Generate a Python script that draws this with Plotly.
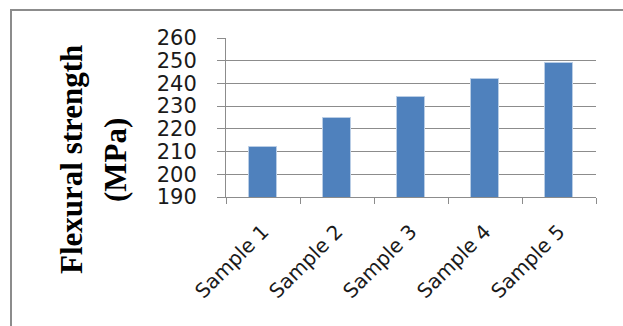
import plotly.graph_objects as go

# Flexural strength per sample (MPa)
samples = ["Sample 1", "Sample 2", "Sample 3", "Sample 4", "Sample 5"]
strength = [212, 225, 234, 242, 249]
y_ticks = [190, 200, 210, 220, 230, 240, 250, 260]

W, H = 623, 326
L, R, T, B = 226, 27, 38, 129
pw, ph = W - L - R, H - T - B


def px_x(p):
    return (p - L) / pw


def px_y(p):
    return 1 - (p - T) / ph


fig = go.Figure(
    go.Bar(
        x=samples,
        y=strength,
        width=0.38,
        marker=dict(color="#4F81BD", line=dict(color="#B9CDE5", width=1)),
    )
)

grid = "#8C8C8C"
fig.update_layout(
    width=W,
    height=H,
    margin=dict(l=L, r=R, t=T, b=B),
    paper_bgcolor="white",
    plot_bgcolor="white",
    showlegend=False,
    bargap=0,
    xaxis=dict(
        showgrid=False,
        showline=True,
        linecolor=grid,
        linewidth=1,
        ticks="outside",
        tickson="boundaries",
        ticklen=6,
        tickcolor=grid,
        tickangle=-45,
        ticklabelstandoff=14,
        tickfont=dict(family="DejaVu Sans", size=20, color="#1a1a1a"),
    ),
    yaxis=dict(
        range=[190, 260],
        tickvals=y_ticks,
        showgrid=True,
        gridcolor=grid,
        gridwidth=1,
        showline=True,
        linecolor=grid,
        linewidth=1,
        ticks="outside",
        ticklen=8,
        tickcolor=grid,
        ticklabelstandoff=16,
        zeroline=False,
        tickfont=dict(family="DejaVu Sans", size=21, color="#1a1a1a"),
    ),
    shapes=[
        dict(
            type="rect",
            xref="paper",
            yref="paper",
            x0=px_x(11),
            x1=px_x(640),
            y0=px_y(340),
            y1=px_y(10),
            line=dict(color="#8C8C8C", width=2),
            layer="below",
        )
    ],
    annotations=[
        dict(
            text="<b>Flexural strength</b>",
            xref="paper",
            yref="paper",
            x=px_x(71),
            y=px_y(160),
            xanchor="center",
            yanchor="middle",
            textangle=-90,
            showarrow=False,
            font=dict(family="Liberation Serif", size=31, color="black"),
        ),
        dict(
            text="<b>(MPa)</b>",
            xref="paper",
            yref="paper",
            x=px_x(115),
            y=px_y(160),
            xanchor="center",
            yanchor="middle",
            textangle=-90,
            showarrow=False,
            font=dict(family="Liberation Serif", size=31, color="black"),
        ),
    ],
)

fig.write_html("out.html")
